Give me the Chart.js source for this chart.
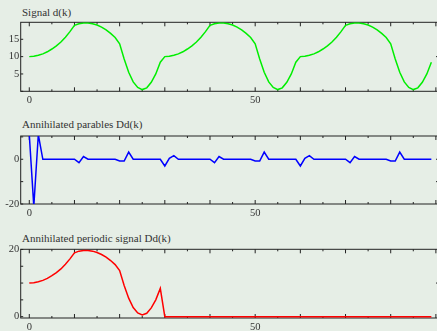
<!DOCTYPE html>
<html>
<head>
<meta charset="utf-8">
<script src="https://cdn.jsdelivr.net/npm/chart.js@4/dist/chart.umd.min.js"></script>
<style>
html,body{margin:0;padding:0;overflow:hidden;background:#e6eee6;}
#wrap{position:relative;width:437px;height:331px;overflow:hidden;}
canvas{position:absolute;left:0;}
.t{position:absolute;left:22px;font-family:"Liberation Serif",serif;font-size:11px;line-height:12px;color:#333;white-space:nowrap;}
</style>
</head>
<body>
<div id="wrap">
<div class="t" style="top:5.5px">Signal d(k)</div>
<div class="t" style="top:118px">Annihilated parables Dd(k)</div>
<div class="t" style="top:231.5px">Annihilated periodic signal Dd(k)</div>
<canvas id="c1" width="442" height="110" style="top:0px;width:442px;height:110px"></canvas>
<canvas id="c2" width="442" height="110" style="top:110px;width:442px;height:110px"></canvas>
<canvas id="c3" width="442" height="111" style="top:220px;width:442px;height:111px"></canvas>
</div>
<script>
// sample index
const k = [0,1,2,3,4,5,6,7,8,9,10,11,12,13,14,15,16,17,18,19,20,21,22,23,24,25,26,27,28,29,
30,31,32,33,34,35,36,37,38,39,40,41,42,43,44,45,46,47,48,49,50,51,52,53,54,55,56,57,58,59,
60,61,62,63,64,65,66,67,68,69,70,71,72,73,74,75,76,77,78,79,80,81,82,83,84,85,86,87,88,89];

// Signal d(k)
const signal = [
10.0,10.1,10.4,10.8,11.4,12.2,13.1,14.2,15.6,17.2,19.0,19.5,19.7,19.7,19.5,19.1,18.5,17.7,16.7,15.5,13.7,9.3,5.5,2.7,1.1,0.5,1.0,2.6,5.0,8.4,
10.0,10.1,10.4,10.8,11.4,12.2,13.1,14.2,15.6,17.2,19.0,19.5,19.7,19.7,19.5,19.1,18.5,17.7,16.7,15.5,13.7,9.3,5.5,2.7,1.1,0.5,1.0,2.6,5.0,8.4,
10.0,10.1,10.4,10.8,11.4,12.2,13.1,14.2,15.6,17.2,19.0,19.5,19.7,19.7,19.5,19.1,18.5,17.7,16.7,15.5,13.7,9.3,5.5,2.7,1.1,0.5,1.0,2.6,5.0,8.4];

// Annihilated parables Dd(k)
const parables = [
11,-21,11,0,0,0,0,0,0,0,0,-1.5,1.2,0,0,0,0,0,0,0,-0.8,-0.8,3.2,0,0,0,0,0,0,0,
-3,0.4,1.6,0,0,0,0,0,0,0,0,-1.5,1.2,0,0,0,0,0,0,0,-0.8,-0.8,3.2,0,0,0,0,0,0,0,
-3,0.4,1.6,0,0,0,0,0,0,0,0,-1.5,1.2,0,0,0,0,0,0,0,-0.8,-0.8,3.2,0,0,0,0,0,0,0];

// Annihilated periodic signal Dd(k)
const periodic = [
10.0,10.1,10.4,10.8,11.4,12.2,13.1,14.2,15.6,17.2,19.0,19.5,19.7,19.7,19.5,19.1,18.5,17.7,16.7,15.5,13.7,9.3,5.5,2.7,1.1,0.5,1.0,2.6,5.0,8.4,
0,0,0,0,0,0,0,0,0,0,0,0,0,0,0,0,0,0,0,0,0,0,0,0,0,0,0,0,0,0,
0,0,0,0,0,0,0,0,0,0,0,0,0,0,0,0,0,0,0,0,0,0,0,0,0,0,0,0,0,0];

const xTickLabels = ['0','50'];
const yTickLabels1 = ['5','10','15'];
const yTickLabels2 = ['-20','0'];
const yTickLabels3 = ['0','20'];
const rightTicks1 = [10];
const rightTicks2 = [0,-10];
const rightTicks3 = [10];

const FONT = {family:'"Liberation Serif", serif', size:10.5};
const TXT = '#333';

const framePlugin = {
  id:'frame',
  beforeDatasetsDraw(chart, args, opts){
    const {ctx, chartArea:a, scales} = chart;
    ctx.save();
    ctx.strokeStyle = '#222';
    ctx.lineWidth = 1;
    ctx.strokeRect(a.left, a.top, a.right-a.left, a.bottom-a.top);
    ctx.beginPath();
    scales.x.ticks.forEach(t=>{
      const px = scales.x.getPixelForValue(t.value);
      const len = (Math.round(t.value) % 10 === 0) ? 4 : 2;
      ctx.moveTo(px, a.top); ctx.lineTo(px, a.top+len);
      ctx.moveTo(px, a.bottom); ctx.lineTo(px, a.bottom-len);
    });
    scales.y.ticks.forEach(t=>{
      const py = scales.y.getPixelForValue(t.value);
      ctx.moveTo(a.left, py); ctx.lineTo(a.left+2.5, py);
    });
    (opts.right||[]).forEach(v=>{
      const py = scales.y.getPixelForValue(v);
      ctx.moveTo(a.right, py); ctx.lineTo(a.right-3.5, py);
    });
    ctx.stroke();
    ctx.restore();
  }
};

function makeChart(id, values, color, cfg){
  const pts = k.map((x,i)=>({x:x, y:values[i]}));
  return new Chart(document.getElementById(id), {
    type:'line',
    data:{datasets:[{data:pts, borderColor:color, borderWidth:1.5, pointRadius:0, tension:0, fill:false}]},
    plugins:[framePlugin],
    options:{
      responsive:false, animation:false, devicePixelRatio:1,
      layout:{padding:{top:cfg.top, left:0, right:cfg.right, bottom:0}},
      plugins:{legend:{display:false}, tooltip:{enabled:false}, frame:{right:cfg.rightTicks}},
      scales:{
        x:{type:'linear', min:-1.9, max:90.8,
           afterFit:s=>{s.height = cfg.xh;},
           grid:{display:false, drawTicks:false}, border:{display:false},
           ticks:{stepSize:5, autoSkip:false, includeBounds:false, maxRotation:0, padding:cfg.xpad,
                  font:FONT, color:TXT,
                  callback:v=> xTickLabels.includes(String(v)) ? String(v) : ''}},
        y:{type:'linear', min:cfg.ymin, max:cfg.ymax,
           afterFit:s=>{s.width = 20.7;},
           grid:{display:false, drawTicks:false}, border:{display:false},
           ticks:{stepSize:cfg.ystep, autoSkip:false, includeBounds:false, padding:1.5,
                  font:FONT, color:TXT,
                  callback:v=> cfg.ylabels.includes(String(v)) ? String(v) : ''}}
      }
    }
  });
}

makeChart('c1', signal, '#00ee00', {top:22.3, right:2.5, xh:18.7, xpad:3, ymin:0, ymax:19.9, ystep:5, ylabels:yTickLabels1, rightTicks:rightTicks1});
makeChart('c2', parables, '#0000ff', {top:26, right:2.5, xh:16, xpad:3, ymin:-20, ymax:10.4, ystep:10, ylabels:yTickLabels2, rightTicks:rightTicks2});
makeChart('c3', periodic, '#ff0000', {top:29.3, right:2.5, xh:13, xpad:3, ymin:-0.4, ymax:20.05, ystep:5, ylabels:yTickLabels3, rightTicks:rightTicks3});
</script>
</body>
</html>
